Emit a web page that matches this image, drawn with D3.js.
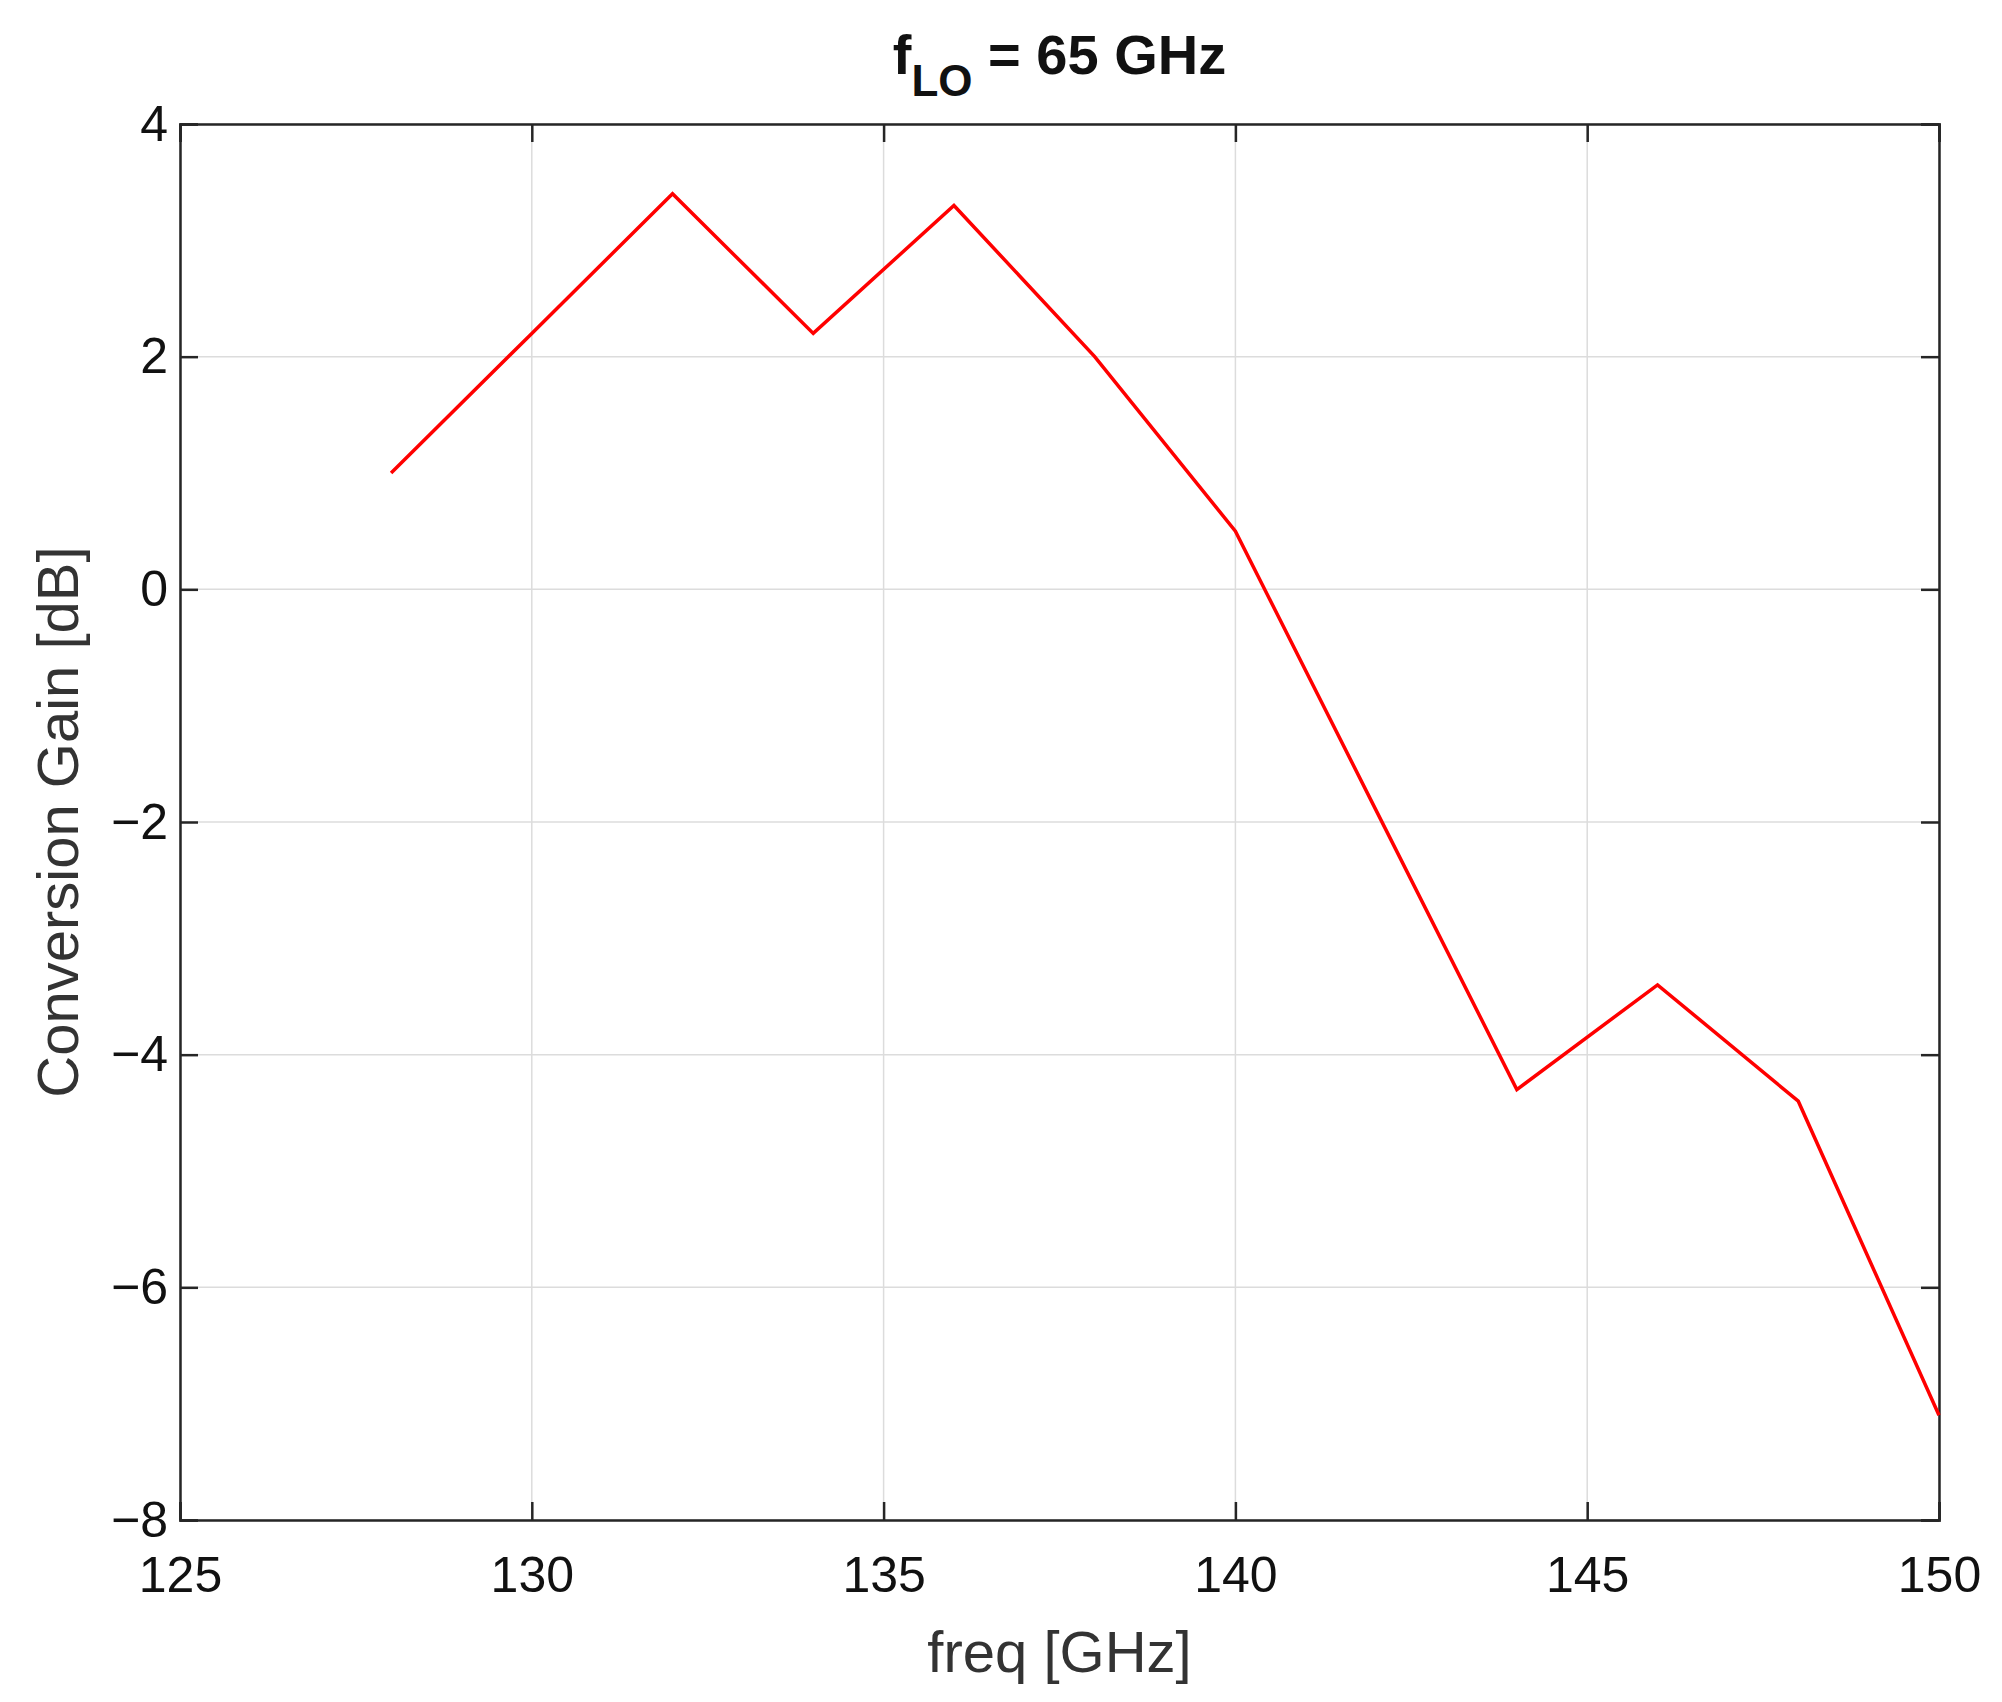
<!DOCTYPE html>
<html><head><meta charset="utf-8">
<script src="https://d3js.org/d3.v7.min.js"></script>
<style>body{margin:0;background:#fff}</style></head>
<body><svg id="c" width="2002" height="1702"></svg>
<script>
const freq = [128,130,132,134,136,138,140,142,144,146,148,150];
const gain = [1.0,2.2,3.4,2.2,3.3,2.0,0.5,-1.9,-4.3,-3.4,-4.4,-7.1];
const xTicks = [125,130,135,140,145,150];
const yTicks = [-8,-6,-4,-2,0,2,4];

const svg = d3.select("#c");
const L=180,R=1947-8,T=124,B=1520;
const x = d3.scaleLinear().domain([125,150]).range([L,R]);
const y = d3.scaleLinear().domain([-8,4]).range([B,T]);
const font="Liberation Sans, Arial, sans-serif";

svg.append("g").selectAll("line").data(xTicks).join("line")
  .attr("x1",d=>x(d)).attr("x2",d=>x(d)).attr("y1",T).attr("y2",B)
  .attr("stroke","#dcdcdc").attr("stroke-width",1.5);
svg.append("g").selectAll("line").data(yTicks).join("line")
  .attr("y1",d=>y(d)).attr("y2",d=>y(d)).attr("x1",L).attr("x2",R)
  .attr("stroke","#dcdcdc").attr("stroke-width",1.5);

const xa = svg.append("g").attr("transform",`translate(0,${B})`)
  .call(d3.axisBottom(x).tickValues(xTicks).tickSize(-18).tickPadding(36));
const xt = svg.append("g").attr("transform",`translate(0,${T})`)
  .call(d3.axisTop(x).tickValues(xTicks).tickSize(-18).tickFormat(""));
const yl = svg.append("g").attr("transform",`translate(${L},0)`)
  .call(d3.axisLeft(y).tickValues(yTicks).tickSize(-18).tickPadding(12).tickFormat(d=>d<0?"\u2212"+(-d):d));
const yr = svg.append("g").attr("transform",`translate(${R},0)`)
  .call(d3.axisRight(y).tickValues(yTicks).tickSize(-18).tickFormat(""));
[xa,xt,yl,yr].forEach(g=>{
  g.selectAll("path,line").attr("stroke","#262626").attr("stroke-width",2.5);
  g.selectAll("text").attr("font-family",font).attr("font-size",50).attr("fill","#111");
});

svg.append("path").datum(freq.map((f,i)=>[f,gain[i]]))
  .attr("d",d3.line().x(d=>x(d[0])).y(d=>y(d[1])))
  .attr("fill","none").attr("stroke","#ff0000").attr("stroke-width",3.5);

svg.append("text").attr("x",(L+R)/2).attr("y",1672).attr("text-anchor","middle")
  .attr("font-family",font).attr("font-size",58).attr("fill","#333").text("freq [GHz]");
svg.append("text").attr("transform",`translate(78,${(T+B)/2}) rotate(-90)`).attr("text-anchor","middle")
  .attr("font-family",font).attr("font-size",58).attr("fill","#333").text("Conversion Gain [dB]");
const t = svg.append("text").attr("x",(L+R)/2).attr("y",74).attr("text-anchor","middle")
  .attr("font-family",font).attr("font-size",56).attr("font-weight","bold").attr("fill","#111");
t.append("tspan").text("f");
t.append("tspan").attr("dy",22).attr("font-size",44).text("LO");
t.append("tspan").attr("dy",-22).text(" = 65 GHz");
</script></body></html>
